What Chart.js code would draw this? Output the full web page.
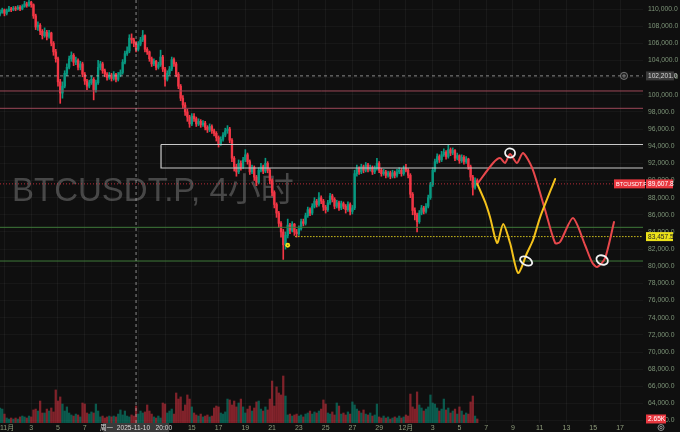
<!DOCTYPE html>
<html>
<head>
<meta charset="utf-8">
<script src="https://cdn.jsdelivr.net/npm/chart.js@4.4.1/dist/chart.umd.min.js"></script>
<style>
  html, body { margin: 0; padding: 0; background: #0f0f0f; }
  #wrap { width: 680px; height: 432px; }
</style>
</head>
<body>
<div id="wrap"><canvas id="btc"></canvas></div>
<script>
// BTCUSDT.P 4h candles, prices in thousands of USDT. slot 0 = 2025-10-31 16:00 (UTC+8 chart time)
var startTime = '2025-10-31T16:00:00Z';
var firstOpen = 109.4;
var closes = [
  109.6,109.9,109.5,109.8,110.0,109.9,110.1,110.0,110.2,110.0,110.3,110.6,110.4,110.8,110.5,109.2,107.9,108.1,107.4,106.9,
  107.3,106.8,107.2,106.0,105.0,104.2,101.5,100.2,101.0,102.5,103.2,104.2,104.6,103.8,104.0,103.2,103.6,102.4,101.6,101.0,
  101.4,101.8,100.6,101.4,103.2,103.6,102.8,102.4,102.0,102.3,101.9,102.4,101.8,102.3,102.6,103.8,104.8,105.1,106.6,106.4,
  106.0,105.3,105.9,106.4,106.9,105.3,105.0,104.2,103.6,103.9,103.2,103.5,104.4,103.0,101.8,102.5,103.0,104.1,103.6,102.4,
  101.0,99.6,98.8,98.0,97.4,96.6,97.5,97.2,96.6,96.9,96.5,96.7,96.2,95.9,96.3,95.8,95.5,95.0,94.3,94.8,
  95.3,95.8,96.0,94.7,92.6,91.6,91.0,92.0,91.6,92.4,93.0,92.2,91.0,91.5,90.4,89.8,91.2,91.6,91.1,92.0,
  91.2,90.0,88.6,87.2,86.2,85.0,84.0,82.5,83.6,84.8,84.2,84.9,84.0,83.8,84.4,85.2,85.0,85.9,86.6,86.2,
  87.0,87.6,87.2,88.0,87.6,86.9,86.6,87.4,88.2,87.8,87.0,87.4,86.8,87.3,87.0,86.6,87.2,86.4,86.8,90.8,
  91.4,91.0,91.6,91.2,91.8,91.3,91.5,91.0,91.4,92.0,91.2,90.8,91.0,90.6,90.9,90.5,90.9,90.6,91.0,91.2,
  90.8,91.4,91.2,90.6,88.4,86.5,86.0,85.2,86.2,86.8,86.4,87.0,88.0,89.5,91.2,92.2,92.8,92.4,93.0,93.3,
  92.8,93.6,93.2,93.5,92.6,92.9,92.3,92.7,92.2,92.5,91.6,90.4,89.2,90.0,89.6078
];
var highs = [
  109.9,110.1,110.0,110.0,110.3,110.2,110.3,110.3,110.4,110.4,110.5,110.9,110.8,111.0,110.9,110.6,109.4,108.5,108.3,107.6,
  107.8,107.5,107.5,107.3,106.2,105.3,104.4,101.8,101.5,102.8,103.6,104.5,105.0,104.8,104.4,104.2,103.9,103.8,102.6,101.8,
  101.7,102.2,102.0,101.7,104.0,103.9,103.8,103.0,102.6,102.6,102.5,102.7,102.5,102.6,102.9,104.1,105.1,105.6,107.0,107.1,
  106.6,106.2,106.2,106.7,107.5,107.0,105.5,105.1,104.4,104.2,104.0,103.8,105.2,104.6,103.2,102.8,103.3,104.4,104.3,103.8,
  102.6,101.2,99.9,99.1,98.3,97.6,97.8,97.8,97.4,97.2,97.1,97.0,96.9,96.4,96.6,96.5,96.0,95.7,95.2,95.1,
  95.6,96.1,96.4,96.2,94.9,92.8,91.9,92.4,92.3,92.7,93.6,93.2,92.4,91.8,91.7,90.6,91.5,92.0,91.8,92.6,
  92.2,91.4,90.2,88.8,87.4,86.4,85.2,84.3,84.0,85.5,85.0,85.2,85.0,84.3,84.7,85.5,85.5,86.2,86.9,86.8,
  87.3,88.0,87.8,88.6,88.2,87.8,87.1,87.7,88.5,88.4,88.0,87.7,87.6,87.6,87.5,87.2,87.5,87.4,87.1,91.2,
  91.8,91.6,91.9,91.8,92.1,92.0,91.8,91.7,91.7,92.6,92.2,91.4,91.3,91.2,91.1,91.1,91.2,91.1,91.3,91.5,
  91.4,91.7,91.9,91.4,90.8,88.6,86.8,86.2,86.5,87.1,87.0,87.3,88.3,89.8,91.5,92.5,93.1,93.0,93.4,93.7,
  93.5,94.1,93.8,93.8,93.6,93.2,93.0,93.0,92.9,92.8,92.6,91.8,90.6,90.3,90.2
];
var lows = [
  109.2,109.5,109.2,109.3,109.7,109.7,109.8,109.8,109.9,109.8,109.9,110.2,110.2,110.3,110.2,108.9,107.6,107.5,107.0,106.5,
  106.7,106.4,106.6,105.7,104.6,103.8,101.0,99.0,99.6,100.8,102.2,103.0,103.9,103.4,103.5,102.9,102.9,102.1,101.2,100.6,
  100.8,101.2,99.4,100.3,101.2,102.9,102.5,102.1,101.7,101.8,101.6,101.7,101.5,101.6,102.1,102.4,103.6,104.6,104.9,106.0,
  105.6,105.0,105.1,105.7,106.2,105.0,104.7,103.9,103.3,103.4,102.9,103.0,103.3,102.7,101.0,101.6,102.3,102.8,103.3,102.1,
  100.7,99.3,98.4,97.6,96.9,96.2,96.4,96.9,96.3,96.4,96.2,96.3,95.9,95.6,95.7,95.5,95.2,94.6,93.9,94.1,
  94.6,95.1,95.5,94.4,92.2,91.1,90.5,90.8,91.2,91.4,92.2,91.9,90.7,90.8,90.0,89.4,89.6,91.0,90.8,90.9,
  90.9,89.6,88.2,86.8,85.7,84.5,83.4,80.8,82.0,83.3,83.8,84.0,83.6,83.4,83.6,84.2,84.7,84.8,85.7,85.9,
  86.0,86.8,86.9,87.0,87.3,86.5,86.2,86.4,87.2,87.5,86.7,86.8,86.5,86.6,86.7,86.2,86.4,86.0,86.1,86.6,
  90.5,90.7,90.8,90.9,91.0,91.0,91.1,90.7,90.8,91.2,90.9,90.5,90.6,90.3,90.4,90.2,90.3,90.3,90.4,90.8,
  90.5,90.6,91.0,90.3,88.0,86.0,85.4,84.0,85.0,86.0,86.1,86.2,86.8,87.8,89.3,91.0,92.0,92.1,92.2,92.8,
  92.5,92.6,92.9,93.0,92.3,92.4,92.0,92.1,91.9,92.0,91.3,90.0,88.3,89.0,89.4
];
// volume per candle, thousands of BTC
var volumes = [
  9.9,9.2,5.9, 3.3,2.6,3.3,2.6,3.3,2.6, 4.0,4.6,4.0,3.3,4.6,4.0, 8.6,9.2,7.9, 14.5,6.6,
  6.6,9.2,7.9,9.9,7.3, 21.8,14.5, 17.2, 12.5,7.9, 10.6,6.6, 5.3,4.6,5.9,5.3,4.0, 13.2,12.5,
  6.6,5.9,7.3,6.6, 12.5,7.9, 4.0,4.6,3.3,4.0,4.6,4.0, 4.6,4.0,5.9,8.6,5.3,7.9, 4.6,4.0,5.3,4.6,
  11.2, 5.9,7.9,6.6,7.3, 11.9,7.9,5.9, 4.0,3.3,4.6,3.3, 13.2,12.5, 6.6,7.9,9.2,5.9, 19.8,15.8,
  17.2,7.9,11.9, 18.5,15.8, 10.6,6.6, 5.3,4.6,5.9,4.0,4.6,5.3,4.0,4.6, 9.9,11.2,10.6, 6.6,5.9,7.3,
  15.8,15.2,11.9, 14.5,10.6,13.2, 15.8,10.6, 6.6,9.2,11.2,7.9,9.9, 13.9,14.5, 9.2,7.9,10.6,8.6,
  15.8,27.7, 11.2, 23.8,19.8, 18.5, 31.0, 17.8, 5.3,5.9,4.6, 5.3,5.9,4.6,5.3,4.0,5.9,
  6.6,7.9,5.9,7.3,6.6,7.9, 9.2, 15.2, 12.5, 6.6,5.9,7.3,5.3, 13.2, 11.2, 5.9,6.6,5.3,7.3,5.9,
  13.9, 11.9, 9.2,7.9,6.6,8.6,5.9,5.3,6.6,4.6,5.3, 12.5,
  4.0,3.3,4.6,3.3,4.0,2.6,3.3,4.0,3.3,4.6,3.3,4.0,5.3,4.6, 19.1, 10.6, 9.2, 20.5, 11.9,
  9.9,7.9,9.2,10.6, 18.5, 13.2,12.5,9.9,7.9,9.2, 15.8, 8.6,9.9,6.6,7.9,9.2,5.9, 10.6,
  7.9,5.3,6.6,5.9, 13.9, 17.8, 4.6, 2.65
];

// price scale ticks and time axis labels
var priceTicks = [62,64,66,68,70,72,74,76,78,80,82,84,86,88,90,92,94,96,98,100,102,104,106,108,110];
var tickDates = ['2025-11-01','2025-11-03','2025-11-05','2025-11-07','2025-11-09','2025-11-11','2025-11-13',
  '2025-11-15','2025-11-17','2025-11-19','2025-11-21','2025-11-23','2025-11-25','2025-11-27','2025-11-29',
  '2025-12-01','2025-12-03','2025-12-05','2025-12-07','2025-12-09','2025-12-11','2025-12-13','2025-12-15','2025-12-17'];
var tickLabels = ['11月','3','5','7','9','11','13','15','17','19','21','23','25','27','29',
  '12月','3','5','7','9','11','13','15','17'];

// drawings
var pinkLevels = [100.44, 98.42];
var greenLevels = [84.54, 80.61];
var zoneTop = 94.2, zoneBottom = 91.46, zoneStartSlot = 72.2;
var lastPrice = 89.6078;
var markPrice = 83.4575, markStartSlot = 132.3;
var crossTime = '2025-11-10T20:00:00Z', crossPrice = 102.201;
var redPathSlots = [214, 221.1, 224.2, 226.4, 228.7, 231.8, 234.5, 238.6, 244.4, 248.9, 251.1, 256.9, 262.3, 265.4, 267.7, 271.3, 275.3];
var redPathPrices = [89.6, 92.04, 92.62, 92.04, 93.09, 92.04, 93.21, 91.46, 86.56, 82.71, 82.83, 85.63, 82.48, 80.5, 79.91, 80.96, 85.16];
var yellowPathSlots = [214, 217.5, 219.7, 222.9, 225.6, 228.7, 232.3, 236.3, 239.0, 242.2, 248.9];
var yellowPathPrices = [89.6, 87.5, 85.74, 82.71, 84.93, 82.71, 79.21, 81.55, 83.06, 85.74, 90.17];
var circleSlots = [228.7, 235.9, 270.0];
var circlePrices = [93.21, 80.61, 80.73];
var dotSlot = 129, dotPrice = 82.45;

var X_MIN = 0, X_MAX = 288.3;
var UP = '#089981', DOWN = '#f23645';
var UP_VOL = 'rgba(8,153,129,0.55)', DOWN_VOL = 'rgba(242,54,69,0.5)';
var FONT = '"Liberation Sans", "Noto Sans CJK SC", sans-serif';
var TICK_COLOR = '#8f9c7c';

function slotOf(iso) {
  return (Date.parse(iso) - Date.parse(startTime)) / (4 * 3600 * 1000);
}
var tickSlots = tickDates.map(function (d) { return slotOf(d + 'T00:00:00Z'); });
var crossSlot = slotOf(crossTime);

var opens = [firstOpen].concat(closes.slice(0, -1));
var wickData = [], bodyData = [], volData = [], candleColors = [], volColors = [];
for (var i = 0; i < closes.length; i++) {
  var o = opens[i] * 1000, c = closes[i] * 1000;
  var up = c >= o;
  wickData.push({ x: i, y: [lows[i] * 1000, highs[i] * 1000] });
  bodyData.push({ x: i, y: [Math.min(o, c), Math.max(o, c)] });
  volData.push({ x: i, y: volumes[i] });
  candleColors.push(up ? UP : DOWN);
  volColors.push(up ? UP_VOL : DOWN_VOL);
}

function hline(price, color, dash, width, from) {
  return {
    type: 'line',
    data: [{ x: from === undefined ? X_MIN : from, y: price * 1000 }, { x: X_MAX, y: price * 1000 }],
    borderColor: color, borderDash: dash, borderWidth: width,
    pointRadius: 0, order: 1
  };
}
function path(slots, prices, color) {
  return {
    type: 'line',
    data: slots.map(function (s, j) { return { x: s, y: prices[j] * 1000 }; }),
    borderColor: color, borderWidth: 2, tension: 0.25,
    borderCapStyle: 'round', borderJoinStyle: 'round',
    pointRadius: 0, order: 0
  };
}

var datasets = [
  { type: 'bar', data: volData, yAxisID: 'yv', backgroundColor: volColors, barThickness: 1.6, grouped: false, order: 6 },
  { type: 'bar', data: wickData, backgroundColor: candleColors, barThickness: 1, grouped: false, order: 4 },
  { type: 'bar', data: bodyData, backgroundColor: candleColors, barThickness: 1.7, grouped: false, minBarLength: 1, order: 3 },
  hline(pinkLevels[0], '#9e4858', [], 1),
  hline(pinkLevels[1], '#9e4858', [], 1),
  hline(greenLevels[0], '#3f7a3a', [], 1),
  hline(greenLevels[1], '#3f7a3a', [], 1),
  hline(lastPrice, 'rgba(242,54,69,0.75)', [1, 2], 1),
  hline(markPrice, '#d2c21e', [1.5, 1.5], 1, markStartSlot),
  hline(crossPrice, 'rgba(190,190,190,0.7)', [3, 3], 1),
  {
    type: 'line',
    data: [
      { x: zoneStartSlot, y: zoneTop * 1000 }, { x: X_MAX + 2, y: zoneTop * 1000 },
      { x: X_MAX + 2, y: zoneBottom * 1000 }, { x: zoneStartSlot, y: zoneBottom * 1000 },
      { x: zoneStartSlot, y: zoneTop * 1000 }
    ],
    borderColor: '#c9c9c9', borderWidth: 1.2, pointRadius: 0, order: 1
  },
  {
    type: 'line',
    data: [{ x: crossSlot, y: 61721 }, { x: crossSlot, y: 111050 }],
    borderColor: 'rgba(190,190,190,0.7)', borderDash: [3, 3], borderWidth: 1, pointRadius: 0, order: 0
  },
  path(yellowPathSlots, yellowPathPrices, '#f4c21b'),
  path(redPathSlots, redPathPrices, '#e8484c')
];

function tag(ctx, x, yc, w, text, bg, fg, size) {
  ctx.fillStyle = bg;
  ctx.fillRect(x, yc - 4.5, w, 9);
  ctx.fillStyle = fg;
  ctx.font = (size || 6.6) + 'px ' + FONT;
  ctx.textAlign = 'left';
  ctx.textBaseline = 'middle';
  ctx.fillText(text, x + 2, yc + 0.5);
}

var overlay = {
  id: 'overlay',
  beforeDraw: function (chart) {
    var ctx = chart.ctx;
    ctx.save();
    ctx.fillStyle = '#0f0f0f';
    ctx.fillRect(0, 0, chart.width, chart.height);
    ctx.restore();
  },
  beforeDatasetsDraw: function (chart) {
    var ctx = chart.ctx;
    ctx.save();
    ctx.font = '33px ' + FONT;
    ctx.fillStyle = 'rgba(150,150,150,0.42)';
    ctx.textAlign = 'left';
    ctx.textBaseline = 'alphabetic';
    ctx.fillText('BTCUSDT.P, 4小时', 12, 201);
    ctx.restore();
  },
  afterDraw: function (chart) {
    var ctx = chart.ctx, xs = chart.scales.x, ys = chart.scales.y, yv = chart.scales.yv;
    var area = chart.chartArea;
    ctx.save();
    // hand-drawn circles on the projections
    ctx.strokeStyle = '#f2f2f2';
    ctx.lineWidth = 1.8;
    var radii = [[5, 4.5, 0.2], [6.5, 4, 0.5], [6, 4.5, 0.4]];
    for (var j = 0; j < circleSlots.length; j++) {
      ctx.beginPath();
      ctx.ellipse(xs.getPixelForValue(circleSlots[j]), ys.getPixelForValue(circlePrices[j] * 1000),
        radii[j][0], radii[j][1], radii[j][2], 0, Math.PI * 2);
      ctx.stroke();
    }
    // small marker at the low
    ctx.fillStyle = '#f2e21c';
    ctx.beginPath();
    ctx.arc(xs.getPixelForValue(dotSlot), ys.getPixelForValue(dotPrice * 1000), 2.4, 0, Math.PI * 2);
    ctx.fill();
    ctx.fillStyle = '#6a6410';
    ctx.beginPath();
    ctx.arc(xs.getPixelForValue(dotSlot), ys.getPixelForValue(dotPrice * 1000), 0.8, 0, Math.PI * 2);
    ctx.fill();

    // first month label sits flush with the left edge
    ctx.fillStyle = TICK_COLOR;
    ctx.font = '7px ' + FONT;
    ctx.textAlign = 'left';
    ctx.textBaseline = 'middle';
    ctx.fillText(tickLabels[0], 0, area.bottom + 4.6);

    // price scale tags
    var lx = area.right + 3;
    var yc = ys.getPixelForValue(crossPrice * 1000);
    tag(ctx, lx, yc, 28, '102,201.0', '#3a3a3a', '#d8d8d8');
    ctx.fillStyle = '#222';
    ctx.strokeStyle = '#8a8a8a';
    ctx.lineWidth = 0.8;
    ctx.beginPath();
    ctx.arc(area.right - 19, yc, 3.6, 0, Math.PI * 2);
    ctx.fill();
    ctx.stroke();
    ctx.beginPath();
    ctx.moveTo(area.right - 21, yc); ctx.lineTo(area.right - 17, yc);
    ctx.moveTo(area.right - 19, yc - 2); ctx.lineTo(area.right - 19, yc + 2);
    ctx.stroke();

    var yl = ys.getPixelForValue(lastPrice * 1000);
    tag(ctx, area.right - 29, yl, 31, 'BTCUSDT.P', '#e8373f', '#fff', 5.6);
    tag(ctx, lx, yl, 27, '89,607.8', '#e8373f', '#fff');
    tag(ctx, lx, ys.getPixelForValue(markPrice * 1000), 27, '83,457.5', '#ece21a', '#222');
    tag(ctx, lx, yv.getPixelForValue(volumes[volumes.length - 1]), 20, '2.65K', '#e8373f', '#fff');

    // crosshair time label
    var cx = xs.getPixelForValue(crossSlot);
    ctx.fillStyle = '#3a3a3a';
    ctx.fillRect(cx - 33, area.bottom, 66, 9);
    ctx.fillStyle = '#d8d8d8';
    ctx.font = '6.6px ' + FONT;
    ctx.textAlign = 'center';
    ctx.textBaseline = 'middle';
    ctx.fillText('周一  2025-11-10   20:00', cx, area.bottom + 4.8);

    // settings gear
    ctx.strokeStyle = '#9a9a9a';
    ctx.lineWidth = 0.9;
    ctx.beginPath();
    ctx.arc(661, 427.5, 3, 0, Math.PI * 2);
    ctx.stroke();
    ctx.beginPath();
    ctx.arc(661, 427.5, 1.2, 0, Math.PI * 2);
    ctx.stroke();
    ctx.restore();
  }
};

new Chart(document.getElementById('btc'), {
  type: 'bar',
  data: { datasets: datasets },
  plugins: [overlay],
  options: {
    responsive: true,
    maintainAspectRatio: false,
    animation: false,
    layout: { padding: 0 },
    plugins: { legend: { display: false }, tooltip: { enabled: false } },
    elements: { line: { tension: 0 }, bar: { borderWidth: 0 } },
    scales: {
      x: {
        type: 'linear', min: X_MIN, max: X_MAX, position: 'bottom', offset: false,
        grid: { color: 'rgba(255,255,255,0.045)', drawTicks: false, offset: false },
        border: { display: false },
        ticks: {
          color: TICK_COLOR, font: { size: 7, family: FONT }, padding: 1,
          autoSkip: false, maxRotation: 0,
          // index 0 is drawn by the overlay, left-aligned
          callback: function (v, idx) { return idx === 0 ? '' : tickLabels[idx]; }
        },
        afterBuildTicks: function (s) { s.ticks = tickSlots.map(function (t) { return { value: t }; }); },
        afterFit: function (s) { s.height = 9; s.paddingLeft = 0; s.paddingRight = 0; }
      },
      y: {
        type: 'linear', position: 'right', min: 61721, max: 111050,
        grid: { color: 'rgba(255,255,255,0.035)', drawTicks: false },
        border: { display: false },
        ticks: {
          color: '#7d9478', font: { size: 6.8, family: FONT }, padding: 5, autoSkip: false,
          callback: function (v) { return v.toLocaleString('en-US', { minimumFractionDigits: 1, maximumFractionDigits: 1 }); }
        },
        afterBuildTicks: function (s) { s.ticks = priceTicks.map(function (t) { return { value: t * 1000 }; }); },
        afterFit: function (s) { s.width = 37; s.paddingTop = 0; s.paddingBottom = 0; }
      },
      yv: { type: 'linear', display: false, min: 0, max: 279 }
    }
  }
});
</script>
</body>
</html>
